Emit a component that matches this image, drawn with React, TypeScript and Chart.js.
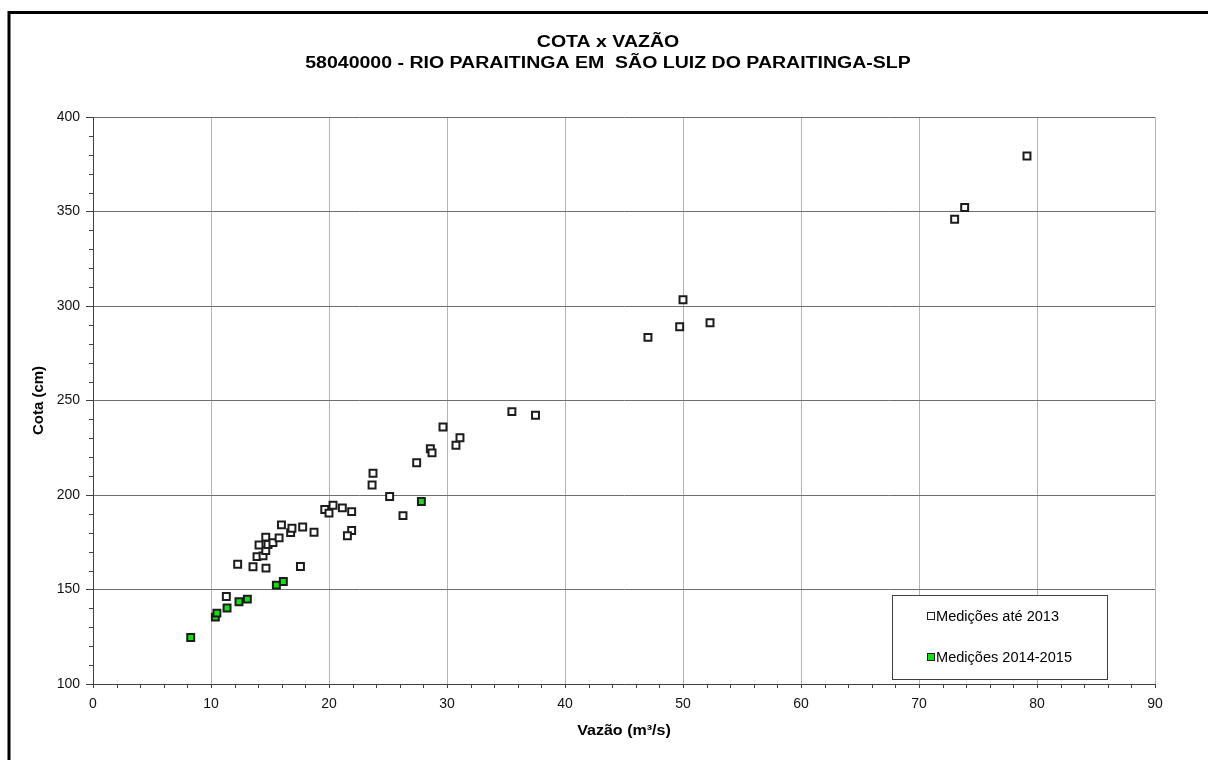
import { useEffect, useRef } from 'react';
import { Chart, registerables } from 'chart.js';

Chart.register(...registerables);

const FONT = '"Liberation Sans", Arial, sans-serif';

const titleLines = ['COTA x VAZÃO', '58040000 - RIO PARAITINGA EM  SÃO LUIZ DO PARAITINGA-SLP'];
const xAxisTitle = 'Vazão (m³/s)';
const yAxisTitle = 'Cota (cm)';
const seriesNames = ['Medições até 2013', 'Medições 2014-2015'];

// Axis ranges (m³/s and cm)
const xRange = [0, 90];
const xStep = 10;
const xMinorStep = 2;
const yRange = [100, 400];
const yStep = 50;
const yMinorStep = 10;

// Gaugings up to 2013: discharge (m³/s) and stage (cm)
const oldQ = [
  11.3, 12.26, 13.56, 14.66, 17.58, 13.9, 14.41, 14.64, 14.07, 14.83, 14.64, 15.25, 15.77, 15.97,
  16.75, 16.86, 17.77, 18.73, 19.64, 20.0, 20.34, 21.13, 21.92, 21.92, 21.56, 23.73, 23.65, 25.14,
  26.27, 27.43, 28.59, 28.73, 29.66, 30.76, 31.1, 35.5, 37.5, 47.03, 49.72, 50.0, 52.29, 73.02,
  73.87, 79.15,
];
const oldH = [
  146.3, 163.4, 162, 161.3, 162.2, 167.4, 167.8, 170.6, 173.5, 173.8, 177.7, 174.8, 177.3, 184.2,
  180.1, 182.4, 183.1, 180.3, 192.3, 190.4, 194.6, 193.2, 191.2, 181.2, 178.4, 211.5, 205.3, 199.2,
  189.1, 217.1, 224.5, 222.3, 236, 226.3, 230.3, 244.1, 242.2, 283.4, 289, 303.3, 291.1, 345.9,
  352.1, 379.4,
];

// Gaugings 2014-2015
const newQ = [8.28, 10.37, 10.5, 11.36, 12.37, 13.08, 15.54, 16.13, 27.83];
const newH = [124.6, 135.4, 137.5, 140.2, 143.5, 144.9, 152.3, 154.2, 196.6];

const OLD_FILL = '#ffffff';
const NEW_FILL = '#12e012';
const MARK_EDGE = '#1c1c1c';

// text drawn with a horizontal stretch (wide typeface look)
function wideText(ctx: CanvasRenderingContext2D, text: string, x: number, y: number, sx: number) {
  ctx.save();
  ctx.translate(x, y);
  ctx.scale(sx, 1);
  ctx.fillText(text, 0, 0);
  ctx.restore();
}

const decorations = {
  id: 'decorations',
  afterDraw(chart: any) {
    const { ctx, chartArea } = chart;
    const xs = chart.scales.x;
    const ys = chart.scales.y;
    ctx.save();

    // minor tick marks
    ctx.strokeStyle = '#404040';
    ctx.lineWidth = 1;
    ctx.beginPath();
    for (let v = xRange[0]; v <= xRange[1] + 1e-9; v += xMinorStep) {
      if (v % xStep === 0) continue;
      const px = Math.round(xs.getPixelForValue(v)) + 0.5;
      ctx.moveTo(px, chartArea.bottom);
      ctx.lineTo(px, chartArea.bottom + 4);
    }
    for (let v = yRange[0]; v <= yRange[1] + 1e-9; v += yMinorStep) {
      if (v % yStep === 0) continue;
      const py = Math.round(ys.getPixelForValue(v)) + 0.5;
      ctx.moveTo(chartArea.left - 4, py);
      ctx.lineTo(chartArea.left, py);
    }
    ctx.stroke();

    // titles
    ctx.fillStyle = '#000';
    ctx.textAlign = 'center';
    ctx.textBaseline = 'alphabetic';
    ctx.font = `bold 16px ${FONT}`;
    const cx = (chartArea.left + chartArea.right) / 2;
    wideText(ctx, titleLines[0], 608, 47, 1.22);
    wideText(ctx, titleLines[1], 608, 68, 1.22);

    ctx.font = `bold 15px ${FONT}`;
    wideText(ctx, xAxisTitle, cx, 735, 1.07);
    ctx.save();
    ctx.translate(43, (chartArea.top + chartArea.bottom) / 2);
    ctx.rotate(-Math.PI / 2);
    ctx.fillText(yAxisTitle, 0, 0);
    ctx.restore();

    // legend box
    const bx = 892.5, by = 595.5, bw = 215, bh = 84;
    ctx.fillStyle = '#fff';
    ctx.fillRect(bx, by, bw, bh);
    ctx.strokeStyle = '#404040';
    ctx.lineWidth = 1;
    ctx.strokeRect(bx, by, bw, bh);
    const rows = [
      { y: 616, fill: OLD_FILL, label: seriesNames[0] },
      { y: 657, fill: NEW_FILL, label: seriesNames[1] },
    ];
    ctx.font = `14px ${FONT}`;
    ctx.textAlign = 'left';
    ctx.textBaseline = 'middle';
    for (const r of rows) {
      ctx.fillStyle = r.fill;
      ctx.fillRect(927.5, r.y - 3.5, 7, 7);
      ctx.strokeStyle = '#222';
      ctx.strokeRect(927.5, r.y - 3.5, 7, 7);
      ctx.fillStyle = '#000';
      wideText(ctx, r.label, 936, r.y + 1, 1.04);
    }

    // outer frame
    ctx.strokeStyle = '#000';
    ctx.lineWidth = 3;
    ctx.strokeRect(9, 12.5, 1300, 900);
    ctx.restore();
  },
};

export default function App() {
  const canvasRef = useRef<HTMLCanvasElement | null>(null);

  useEffect(() => {
    const canvas = canvasRef.current;
    if (!canvas) return;
    const toPoints = (q: number[], h: number[]) => q.map((v, i) => ({ x: v, y: h[i] }));
    const chart = new Chart(canvas, {
      type: 'scatter',
      data: {
        datasets: [
          {
            label: seriesNames[0],
            data: toPoints(oldQ, oldH),
            pointStyle: 'rect',
            pointRadius: 4.9,
            pointBorderWidth: 2,
            pointBackgroundColor: OLD_FILL,
            pointBorderColor: MARK_EDGE,
            order: 1,
          },
          {
            label: seriesNames[1],
            data: toPoints(newQ, newH),
            pointStyle: 'rect',
            pointRadius: 4.9,
            pointBorderWidth: 2,
            pointBackgroundColor: NEW_FILL,
            pointBorderColor: MARK_EDGE,
            order: 0,
          },
        ],
      },
      options: {
        animation: false,
        responsive: false,
        maintainAspectRatio: false,
        layout: { padding: { left: 0, right: 53, top: 117, bottom: 0 } },
        plugins: {
          legend: { display: false },
          title: { display: false },
          tooltip: { enabled: false },
        },
        scales: {
          x: {
            type: 'linear',
            min: xRange[0],
            max: xRange[1],
            ticks: {
              stepSize: xStep,
              color: '#111',
              font: { family: FONT, size: 14 },
              padding: 8,
              maxRotation: 0,
            },
            grid: {
              color: '#b4b4b4',
              lineWidth: 1,
              tickLength: 4,
              tickColor: '#404040',
            },
            border: { color: '#404040', width: 1 },
            afterFit: (s: any) => {
              s.height = 76;
            },
          },
          y: {
            type: 'linear',
            min: yRange[0],
            max: yRange[1],
            ticks: {
              stepSize: yStep,
              color: '#111',
              font: { family: FONT, size: 14 },
              padding: 6,
            },
            grid: {
              color: '#6e6e6e',
              lineWidth: 1,
              tickLength: 7,
              tickColor: '#404040',
            },
            border: { color: '#404040', width: 1 },
            afterFit: (s: any) => {
              s.width = 93;
            },
          },
        },
      },
      plugins: [decorations],
    });
    return () => chart.destroy();
  }, []);

  return (
    <div style={{ position: 'absolute', left: 0, top: 0, width: 1208, height: 760, background: '#fff' }}>
      <canvas ref={canvasRef} width={1208} height={760} />
    </div>
  );
}
